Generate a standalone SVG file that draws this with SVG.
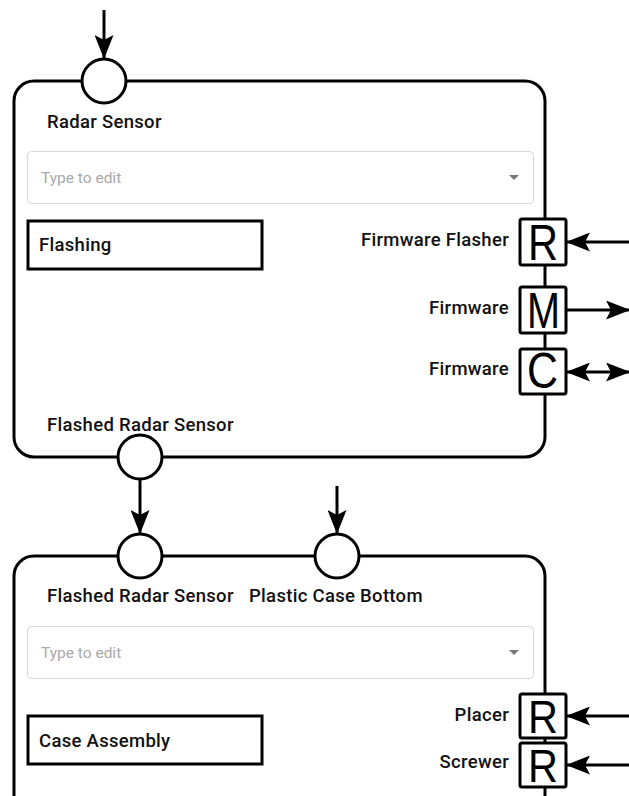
<svg xmlns="http://www.w3.org/2000/svg" width="629" height="796" viewBox="0 0 629 796">
  <defs>
    <marker id="head" viewBox="0 0 24 19" refX="23" refY="9.5" markerWidth="24" markerHeight="19" markerUnits="userSpaceOnUse" orient="auto-start-reverse">
      <path d="M0,0 L24,9.5 L0,19 L5,9.5 Z" fill="#000"/>
    </marker>
    <style>
      .frame { fill: #fff; stroke: #000; stroke-width: 3; }
      .port { fill: #fff; stroke: #000; stroke-width: 3; }
      .task { fill: #fff; stroke: #000; stroke-width: 3; }
      .field { fill: #fff; stroke: #d6d6d6; stroke-width: 1; }
      .hint { font-family: Roboto, "Liberation Sans", sans-serif; font-size: 15.5px; fill: #a8a8a8; }
      .label { font-family: Roboto, "Liberation Sans", sans-serif; font-weight: 500; font-size: 18.5px; letter-spacing: 0.3px; fill: #111; }
      .rlabel { font-family: Roboto, "Liberation Sans", sans-serif; font-weight: 500; font-size: 18.5px; letter-spacing: 0.3px; fill: #111; text-anchor: end; }
      .res { fill: #fff; stroke: #000; stroke-width: 3; }
      .letter { font-family: "Liberation Sans", Arial, sans-serif; font-size: 50px; fill: #000; }
      .letter-sm { font-family: "Liberation Sans", Arial, sans-serif; font-size: 46px; fill: #000; }
      .wire { stroke: #000; stroke-width: 3; fill: none; }
    </style>
  </defs>

  <!-- process: Flashing -->
  <g id="flashing">
    <rect class="frame" x="14" y="81" width="531" height="376" rx="20" ry="20"/>
    <circle id="in-radar" class="port" cx="104" cy="81" r="22"/>
    <circle id="out-flashed" class="port" cx="140" cy="457" r="22"/>
    <text class="label" x="47" y="128">Radar Sensor</text>
    <rect class="field" x="27.5" y="151.5" width="506" height="52" rx="4"/>
    <text class="hint" x="41" y="183">Type to edit</text>
    <path d="M509,175 L519,175 L514,180 Z" fill="#777"/>
    <rect class="task" x="28" y="221" width="234" height="48"/>
    <text class="label" x="39" y="251">Flashing</text>
    <text class="label" x="47" y="431">Flashed Radar Sensor</text>
    <g id="res-flasher">
      <rect class="res" x="520" y="219" width="46" height="46" rx="2"/>
      <text class="letter" x="528" y="260" textLength="30" lengthAdjust="spacingAndGlyphs">R</text>
      <text class="rlabel" x="509" y="246">Firmware Flasher</text>
    </g>
    <g id="res-firmware-m">
      <rect class="res" x="520" y="287" width="46" height="46" rx="2"/>
      <text class="letter" x="527" y="328" textLength="33" lengthAdjust="spacingAndGlyphs">M</text>
      <text class="rlabel" x="509" y="314">Firmware</text>
    </g>
    <g id="res-firmware-c">
      <rect class="res" x="520" y="349" width="46" height="45" rx="2"/>
      <text class="letter" x="527" y="388" textLength="31" lengthAdjust="spacingAndGlyphs">C</text>
      <text class="rlabel" x="509" y="375">Firmware</text>
    </g>
  </g>

  <!-- process: Case Assembly -->
  <g id="case-assembly">
    <rect class="frame" x="14" y="556" width="531" height="300" rx="20" ry="20"/>
    <circle id="in-flashed" class="port" cx="140" cy="556" r="22"/>
    <circle id="in-case-bottom" class="port" cx="337" cy="556" r="22"/>
    <text class="label" x="47" y="602">Flashed Radar Sensor</text>
    <text class="label" x="249" y="602">Plastic Case Bottom</text>
    <rect class="field" x="27.5" y="626.5" width="506" height="52" rx="4"/>
    <text class="hint" x="41" y="658">Type to edit</text>
    <path d="M509,650 L519,650 L514,655 Z" fill="#777"/>
    <rect class="task" x="28" y="716" width="234" height="48"/>
    <text class="label" x="39" y="747">Case Assembly</text>
    <g id="res-placer">
      <rect class="res" x="520" y="694" width="46" height="44" rx="2"/>
      <text class="letter-sm" x="528" y="733" textLength="30" lengthAdjust="spacingAndGlyphs">R</text>
      <text class="rlabel" x="509" y="721">Placer</text>
    </g>
    <g id="res-screwer">
      <rect class="res" x="520" y="743" width="46" height="44" rx="2"/>
      <text class="letter-sm" x="528" y="782" textLength="30" lengthAdjust="spacingAndGlyphs">R</text>
      <text class="rlabel" x="509" y="768">Screwer</text>
    </g>
  </g>

  <!-- connectors -->
  <g id="connectors">
    <line class="wire" x1="104" y1="10" x2="104" y2="58" marker-end="url(#head)"/>
    <line class="wire" x1="140" y1="479" x2="140" y2="533" marker-end="url(#head)"/>
    <line class="wire" x1="337" y1="486" x2="337" y2="533" marker-end="url(#head)"/>
    <line class="wire" x1="629" y1="242" x2="567" y2="242" marker-end="url(#head)"/>
    <line class="wire" x1="566" y1="310" x2="629" y2="310" marker-end="url(#head)"/>
    <line class="wire" x1="567" y1="372" x2="629" y2="372" marker-start="url(#head)" marker-end="url(#head)"/>
    <line class="wire" x1="629" y1="716" x2="567" y2="716" marker-end="url(#head)"/>
    <line class="wire" x1="629" y1="765" x2="567" y2="765" marker-end="url(#head)"/>
  </g>
</svg>
